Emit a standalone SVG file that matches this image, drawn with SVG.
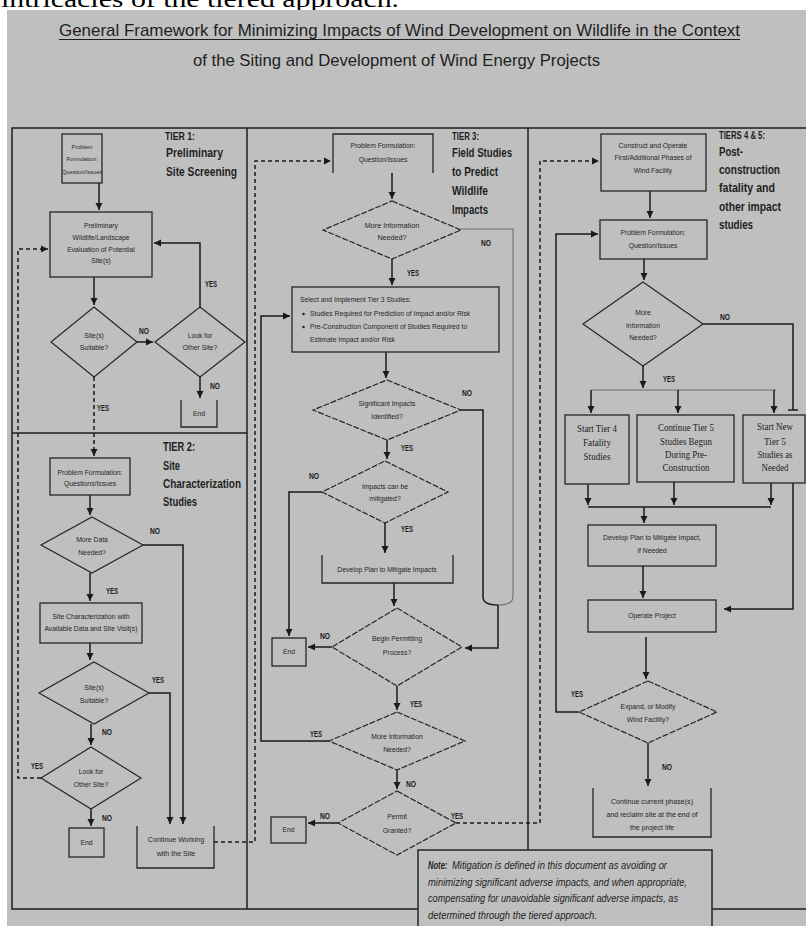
<svg xmlns="http://www.w3.org/2000/svg" width="806" height="926" viewBox="0 0 806 926">
<style>
.bg{fill:#bfbfbf}
.fr{fill:none;stroke:#1e1e1e;stroke-width:1.5}
.bx{fill:none;stroke:#262626;stroke-width:1.3}
.dm{fill:none;stroke:#262626;stroke-width:1.2}
.dd{fill:none;stroke:#262626;stroke-width:1.2;stroke-dasharray:6 1.6}
.ln{fill:none;stroke:#1a1a1a;stroke-width:1.5}
.lg{fill:none;stroke:#6e6e6e;stroke-width:1.1}
.ds{fill:none;stroke:#1a1a1a;stroke-width:1.5;stroke-dasharray:4 3}
text{font-family:"Liberation Sans",Arial,sans-serif;fill:#262626}
.t{font-size:6.8px;text-anchor:middle}
.tl{font-size:6.8px}
.s{font-family:"Liberation Serif","Times New Roman",serif;font-size:10px;text-anchor:middle;fill:#1e1e1e}
.lb{font-size:8.5px;font-weight:bold;fill:#1a1a1a}
.h{font-size:12px;font-weight:bold;fill:#1e1e1e}
.hs{font-size:10.5px;font-weight:bold;fill:#1e1e1e}
.ttl{font-size:17px;fill:#1e1e1e}
.nt{font-size:11.5px;font-style:italic;fill:#1e1e1e}
</style>
<defs>
<marker id="ar" markerUnits="userSpaceOnUse" markerWidth="8" markerHeight="8" refX="7" refY="4" orient="auto">
<path d="M0,0.5 L7,4 L0,7.5 z" fill="#1a1a1a"/>
</marker>
</defs>
<rect x="0" y="0" width="806" height="926" fill="#ffffff"/>
<text x="1" y="7" style="font-family:'Liberation Serif','Times New Roman',serif;font-size:24px;fill:#000" textLength="398" lengthAdjust="spacingAndGlyphs">intricacies of the tiered approach.</text>
<rect class="bg" x="7" y="10" width="799" height="916"/>

<g id="title">
<text class="ttl" x="59" y="36" textLength="681" lengthAdjust="spacingAndGlyphs">General Framework for Minimizing Impacts of Wind Development on Wildlife in the Context</text>
<line x1="59" y1="39.5" x2="740" y2="39.5" stroke="#1e1e1e" stroke-width="1"/>
<text class="ttl" x="193" y="66" textLength="407" lengthAdjust="spacingAndGlyphs">of the Siting and Development of Wind Energy Projects</text>
</g>

<g id="frame">
<path class="fr" d="M806,128 H12 V909 H418 M712,909 H806"/>
<line class="fr" x1="247" y1="128" x2="247" y2="909"/>
<line class="fr" x1="528" y1="128" x2="528" y2="850"/>
<line class="fr" x1="12" y1="433" x2="247" y2="433"/>
</g>

<g id="headings">
<text class="hs" x="165" y="140" textLength="30" lengthAdjust="spacingAndGlyphs">TIER 1:</text>
<text class="h" x="166" y="157" textLength="57" lengthAdjust="spacingAndGlyphs">Preliminary</text>
<text class="h" x="166" y="176" textLength="71" lengthAdjust="spacingAndGlyphs">Site Screening</text>
<text class="h" x="163" y="451" textLength="32" lengthAdjust="spacingAndGlyphs">TIER 2:</text>
<text class="h" x="163" y="470" textLength="17" lengthAdjust="spacingAndGlyphs">Site</text>
<text class="h" x="163" y="488" textLength="78" lengthAdjust="spacingAndGlyphs">Characterization</text>
<text class="h" x="163" y="506" textLength="34" lengthAdjust="spacingAndGlyphs">Studies</text>
<text class="hs" x="452" y="140" textLength="27" lengthAdjust="spacingAndGlyphs">TIER 3:</text>
<text class="h" x="452" y="157" textLength="60" lengthAdjust="spacingAndGlyphs">Field Studies</text>
<text class="h" x="452" y="176" textLength="46" lengthAdjust="spacingAndGlyphs">to Predict</text>
<text class="h" x="452" y="195" textLength="36" lengthAdjust="spacingAndGlyphs">Wildlife</text>
<text class="h" x="452" y="214" textLength="36" lengthAdjust="spacingAndGlyphs">Impacts</text>
<text class="hs" x="719" y="139" textLength="46" lengthAdjust="spacingAndGlyphs">TIERS 4 &amp; 5:</text>
<text class="h" x="719" y="156" textLength="24" lengthAdjust="spacingAndGlyphs">Post-</text>
<text class="h" x="719" y="174" textLength="61" lengthAdjust="spacingAndGlyphs">construction</text>
<text class="h" x="719" y="192" textLength="56" lengthAdjust="spacingAndGlyphs">fatality and</text>
<text class="h" x="719" y="211" textLength="62" lengthAdjust="spacingAndGlyphs">other impact</text>
<text class="h" x="719" y="229" textLength="34" lengthAdjust="spacingAndGlyphs">studies</text>
</g>

<g id="connectors">
<path class="ln" d="M99,183 V210" marker-end="url(#ar)"/>
<path class="ln" d="M94,277 V305" marker-end="url(#ar)"/>
<path class="ln" d="M137,342 H153" marker-end="url(#ar)"/>
<path class="ln" d="M200,307 V243 H154" marker-end="url(#ar)"/>
<path class="ln" d="M200,377 V398" marker-end="url(#ar)"/>
<path class="ds" d="M94,377 V456" marker-end="url(#ar)"/>
<path class="ds" d="M41,778 H18 V249 H48" marker-end="url(#ar)"/>
<path class="ln" d="M90,495 V515" marker-end="url(#ar)"/>
<path class="ln" d="M143,545 H183 V824" marker-end="url(#ar)"/>
<path class="ln" d="M90,573 V601" marker-end="url(#ar)"/>
<path class="ln" d="M90,643 V660" marker-end="url(#ar)"/>
<path class="ln" d="M149,693 H170 V824" marker-end="url(#ar)"/>
<path class="ln" d="M91,724 V745" marker-end="url(#ar)"/>
<path class="ln" d="M91,809 V826" marker-end="url(#ar)"/>
<path class="ds" d="M214,842 H255 V161 H331" marker-end="url(#ar)"/>
<path class="ln" d="M392,173 V199" marker-end="url(#ar)"/>
<path class="lg" d="M461,229 H513 V597 Q513,605 498,605"/>
<path class="ln" d="M392,259 V285" marker-end="url(#ar)"/>
<path class="ln" d="M386,352 V378" marker-end="url(#ar)"/>
<path class="ln" d="M461,410 H483 V597 Q483,605 498,605"/>
<path class="ln" d="M498,605 V648 H465" marker-end="url(#ar)"/>
<path class="ln" d="M387,440 V459" marker-end="url(#ar)"/>
<path class="ln" d="M322,492 H289 V636" marker-end="url(#ar)"/>
<path class="ln" d="M385,523 V553" marker-end="url(#ar)"/>
<path class="ln" d="M394,583 V606" marker-end="url(#ar)"/>
<path class="ln" d="M332,647 H308" marker-end="url(#ar)"/>
<path class="ln" d="M397,686 V710" marker-end="url(#ar)"/>
<path class="ln" d="M329,741 H261 V316 H290" marker-end="url(#ar)"/>
<path class="ln" d="M397,770 V789" marker-end="url(#ar)"/>
<path class="ln" d="M338,823 H308" marker-end="url(#ar)"/>
<path class="ds" d="M456,823 H540 V161 H599" marker-end="url(#ar)"/>
<path class="ln" d="M650,191 V218" marker-end="url(#ar)"/>
<path class="ln" d="M644,259 V280" marker-end="url(#ar)"/>
<path class="ln" d="M703,324 H793 V410 M788,410 H798"/>
<path class="ln" d="M643,366 V388" marker-end="url(#ar)"/>
<path class="lg" d="M591,390 H776"/>
<path class="ln" d="M591,390 V413" marker-end="url(#ar)"/>
<path class="ln" d="M678,390 V413" marker-end="url(#ar)"/>
<path class="ln" d="M774,390 V413" marker-end="url(#ar)"/>
<path class="ln" d="M588,484 V505" marker-end="url(#ar)"/>
<path class="ln" d="M674,482 V505" marker-end="url(#ar)"/>
<path class="ln" d="M771,483 V505" marker-end="url(#ar)"/>
<path class="ln" d="M588,507 H771"/>
<path class="ln" d="M644,507 V523" marker-end="url(#ar)"/>
<path class="ln" d="M643,566 V598" marker-end="url(#ar)"/>
<path class="ln" d="M793,483 V609 H724" marker-end="url(#ar)"/>
<path class="ln" d="M646,637 V679" marker-end="url(#ar)"/>
<path class="ln" d="M579,712 H556 V234 H598" marker-end="url(#ar)"/>
<path class="ln" d="M648,743 V786" marker-end="url(#ar)"/>
</g>

<g id="labels">
<text class="lb" x="139" y="334" textLength="10" lengthAdjust="spacingAndGlyphs">NO</text>
<text class="lb" x="205" y="287" textLength="12" lengthAdjust="spacingAndGlyphs">YES</text>
<text class="lb" x="210" y="389" textLength="10" lengthAdjust="spacingAndGlyphs">NO</text>
<text class="lb" x="97" y="411" textLength="12" lengthAdjust="spacingAndGlyphs">YES</text>
<text class="lb" x="150" y="534" textLength="10" lengthAdjust="spacingAndGlyphs">NO</text>
<text class="lb" x="106" y="594" textLength="12" lengthAdjust="spacingAndGlyphs">YES</text>
<text class="lb" x="152" y="683" textLength="12" lengthAdjust="spacingAndGlyphs">YES</text>
<text class="lb" x="102" y="735" textLength="10" lengthAdjust="spacingAndGlyphs">NO</text>
<text class="lb" x="31" y="769" textLength="12" lengthAdjust="spacingAndGlyphs">YES</text>
<text class="lb" x="102" y="821" textLength="10" lengthAdjust="spacingAndGlyphs">NO</text>
<text class="lb" x="481" y="246" textLength="10" lengthAdjust="spacingAndGlyphs">NO</text>
<text class="lb" x="407" y="276" textLength="12" lengthAdjust="spacingAndGlyphs">YES</text>
<text class="lb" x="462" y="396" textLength="10" lengthAdjust="spacingAndGlyphs">NO</text>
<text class="lb" x="401" y="451" textLength="12" lengthAdjust="spacingAndGlyphs">YES</text>
<text class="lb" x="309" y="479" textLength="10" lengthAdjust="spacingAndGlyphs">NO</text>
<text class="lb" x="401" y="532" textLength="12" lengthAdjust="spacingAndGlyphs">YES</text>
<text class="lb" x="320" y="639" textLength="10" lengthAdjust="spacingAndGlyphs">NO</text>
<text class="lb" x="410" y="707" textLength="12" lengthAdjust="spacingAndGlyphs">YES</text>
<text class="lb" x="310" y="737" textLength="12" lengthAdjust="spacingAndGlyphs">YES</text>
<text class="lb" x="406" y="787" textLength="10" lengthAdjust="spacingAndGlyphs">NO</text>
<text class="lb" x="320" y="819" textLength="10" lengthAdjust="spacingAndGlyphs">NO</text>
<text class="lb" x="451" y="819" textLength="12" lengthAdjust="spacingAndGlyphs">YES</text>
<text class="lb" x="720" y="320" textLength="10" lengthAdjust="spacingAndGlyphs">NO</text>
<text class="lb" x="663" y="382" textLength="12" lengthAdjust="spacingAndGlyphs">YES</text>
<text class="lb" x="571" y="697" textLength="12" lengthAdjust="spacingAndGlyphs">YES</text>
<text class="lb" x="662" y="770" textLength="10" lengthAdjust="spacingAndGlyphs">NO</text>
</g>

<g id="t1_problem"><rect class="bx" x="62" y="134" width="40" height="49"/>
<text class="t" x="82" y="149" style="font-size:5.6px">Problem</text>
<text class="t" x="82" y="161" style="font-size:5.6px">Formulation:</text>
<text class="t" x="82" y="174" style="font-size:5.6px">Question/Issues</text></g>
<g id="t1_prelim"><rect class="bx" x="50" y="212" width="102" height="65"/>
<text class="t" x="101" y="228">Preliminary</text>
<text class="t" x="101" y="240">Wildlife/Landscape</text>
<text class="t" x="101" y="252">Evaluation of Potential</text>
<text class="t" x="101" y="263">Site(s)</text></g>
<g id="t1_suitable"><path class="dm" d="M94,307 L137,342 L94,377 L51,342 Z"/>
<text class="t" x="94" y="338">Site(s)</text>
<text class="t" x="94" y="350">Suitable?</text></g>
<g id="t1_look"><path class="dm" d="M200,307 L245,342 L200,377 L155,342 Z"/>
<text class="t" x="200" y="338">Look for</text>
<text class="t" x="200" y="350">Other Site?</text></g>
<g id="t1_end"><path class="bx" d="M181,400 V427 H217 V400"/>
<text class="t" x="199" y="416">End</text></g>

<g id="t2_problem"><rect class="bx" x="50" y="458" width="80" height="37"/>
<text class="t" x="90" y="475">Problem Formulation:</text>
<text class="t" x="90" y="486">Questions/Issues</text></g>
<g id="t2_moredata"><path class="dm" d="M92,517 L143,545 L92,573 L41,545 Z"/>
<text class="t" x="92" y="542">More Data</text>
<text class="t" x="92" y="555">Needed?</text></g>
<g id="t2_sitechar"><rect class="bx" x="40" y="603" width="102" height="40"/>
<text class="t" x="91" y="619">Site Characterization with</text>
<text class="t" x="91" y="631">Available Data and Site Visit(s)</text></g>
<g id="t2_suitable"><path class="dm" d="M94,662 L149,693 L94,724 L39,693 Z"/>
<text class="t" x="94" y="690">Site(s)</text>
<text class="t" x="94" y="703">Suitable?</text></g>
<g id="t2_look"><path class="dm" d="M91,747 L141,778 L91,809 L41,778 Z"/>
<text class="t" x="91" y="774">Look for</text>
<text class="t" x="91" y="787">Other Site?</text></g>
<g id="t2_end"><rect class="bx" x="69" y="828" width="35" height="29"/>
<text class="t" x="86.5" y="845">End</text></g>
<g id="t2_continue"><path class="bx" d="M137,826 V868 H214 V826"/>
<text class="t" x="176" y="842" style="font-size:7.1px">Continue Working</text>
<text class="t" x="176" y="856" style="font-size:7.1px">with the Site</text></g>

<g id="t3_problem"><path class="bx" d="M333,173 V134 H433 V173"/>
<text class="t" x="383" y="148">Problem Formulation:</text>
<text class="t" x="383" y="162">Question/Issues</text></g>
<g id="t3_moreinfo"><path class="dd" d="M392,201 L461,230 L392,259 L323,230 Z"/>
<text class="t" x="392" y="228" style="font-size:7.2px">More Information</text>
<text class="t" x="392" y="240" style="font-size:7.2px">Needed?</text></g>
<g id="t3_select"><rect class="bx" x="292" y="287" width="207" height="65"/>
<text class="tl" x="300" y="302">Select and Implement Tier 3 Studies:</text>
<circle cx="303.5" cy="314" r="1.3" fill="#262626"/>
<text class="tl" x="310" y="316">Studies Required for Prediction of Impact and/or Risk</text>
<circle cx="303.5" cy="327" r="1.3" fill="#262626"/>
<text class="tl" x="310" y="329">Pre-Construction Component of Studies Required to</text>
<text class="tl" x="310" y="342">Estimate Impact and/or Risk</text></g>
<g id="t3_significant"><path class="dd" d="M387,380 L461,410 L387,440 L313,410 Z"/>
<text class="t" x="387" y="406">Significant Impacts</text>
<text class="t" x="387" y="419">Identified?</text></g>
<g id="t3_mitigated"><path class="dd" d="M385,461 L448,492 L385,523 L322,492 Z"/>
<text class="t" x="385" y="489">Impacts can be</text>
<text class="t" x="385" y="501">mitigated?</text></g>
<g id="t3_plan"><path class="bx" d="M322,555 V583 H453 V555"/>
<text class="t" x="387" y="572">Develop Plan to Mitigate Impacts</text></g>
<g id="t3_permitting"><path class="dd" d="M397,608 L462,647 L397,686 L332,647 Z"/>
<text class="t" x="397" y="641">Begin Permitting</text>
<text class="t" x="397" y="655">Process?</text></g>
<g id="t3_end1"><rect class="bx" x="272" y="638" width="34" height="28"/>
<text class="t" x="289" y="654">End</text></g>
<g id="t3_moreinfo2"><path class="dd" d="M397,712 L465,741 L397,770 L329,741 Z"/>
<text class="t" x="397" y="739">More Information</text>
<text class="t" x="397" y="752">Needed?</text></g>
<g id="t3_granted"><path class="dd" d="M397,791 L456,823 L397,855 L338,823 Z"/>
<text class="t" x="397" y="819">Permit</text>
<text class="t" x="397" y="833">Granted?</text></g>
<g id="t3_end2"><rect class="bx" x="271" y="817" width="35" height="26"/>
<text class="t" x="288.5" y="832">End</text></g>

<g id="t4_construct"><rect class="bx" x="601" y="134" width="105" height="57"/>
<text class="t" x="653" y="148">Construct and Operate</text>
<text class="t" x="653" y="160">First/Additional Phases of</text>
<text class="t" x="653" y="173">Wind Facility</text></g>
<g id="t4_problem"><rect class="bx" x="600" y="220" width="107" height="39"/>
<text class="t" x="653" y="235">Problem Formulation:</text>
<text class="t" x="653" y="248">Question/Issues</text></g>
<g id="t4_moreinfo"><path class="dm" d="M643,282 L703,324 L643,366 L583,324 Z"/>
<text class="t" x="643" y="315">More</text>
<text class="t" x="643" y="328">Information</text>
<text class="t" x="643" y="340">Needed?</text></g>
<g id="t4_fatality"><rect class="bx" x="565" y="415" width="64" height="69"/>
<text class="s" x="597" y="432" textLength="40" lengthAdjust="spacingAndGlyphs">Start Tier 4</text>
<text class="s" x="597" y="446" textLength="28" lengthAdjust="spacingAndGlyphs">Fatality</text>
<text class="s" x="597" y="460" textLength="27" lengthAdjust="spacingAndGlyphs">Studies</text></g>
<g id="t4_continue5"><rect class="bx" x="637" y="415" width="97" height="67"/>
<text class="s" x="686" y="431" textLength="56" lengthAdjust="spacingAndGlyphs">Continue Tier 5</text>
<text class="s" x="686" y="445" textLength="52" lengthAdjust="spacingAndGlyphs">Studies Begun</text>
<text class="s" x="686" y="458" textLength="42" lengthAdjust="spacingAndGlyphs">During Pre-</text>
<text class="s" x="686" y="471" textLength="47" lengthAdjust="spacingAndGlyphs">Construction</text></g>
<g id="t4_new5"><rect class="bx" x="743" y="415" width="62" height="68"/>
<text class="s" x="775" y="430" textLength="36" lengthAdjust="spacingAndGlyphs">Start New</text>
<text class="s" x="775" y="445" textLength="22" lengthAdjust="spacingAndGlyphs">Tier 5</text>
<text class="s" x="775" y="458" textLength="35" lengthAdjust="spacingAndGlyphs">Studies as</text>
<text class="s" x="775" y="471" textLength="27" lengthAdjust="spacingAndGlyphs">Needed</text></g>
<g id="t4_plan"><rect class="bx" x="588" y="525" width="128" height="41"/>
<text class="t" x="652" y="540">Develop Plan to Mitigate Impact,</text>
<text class="t" x="652" y="553">if Needed</text></g>
<g id="t4_operate"><rect class="bx" x="588" y="600" width="128" height="32"/>
<text class="t" x="652" y="618">Operate Project</text></g>
<g id="t4_expand"><path class="dd" d="M648,681 L717,712 L648,743 L579,712 Z"/>
<text class="t" x="648" y="709">Expand, or Modify</text>
<text class="t" x="648" y="722">Wind Facility?</text></g>
<g id="t4_reclaim"><path class="bx" d="M593,788 V837 H711 V788"/>
<text class="t" x="652" y="804" style="font-size:7.1px">Continue current phase(s)</text>
<text class="t" x="652" y="817" style="font-size:7.1px">and reclaim site at the end of</text>
<text class="t" x="652" y="830" style="font-size:7.1px">the project life</text></g>

<g id="note"><rect x="418" y="850" width="294" height="80" fill="#bfbfbf" stroke="#262626" stroke-width="1.5"/>
<text class="nt" transform="translate(428,869) scale(0.66,1)" x="0" y="0" font-weight="bold">Note:</text>
<text class="nt" x="452" y="869" textLength="215" lengthAdjust="spacingAndGlyphs">Mitigation is defined in this document as avoiding or</text>
<text class="nt" x="428" y="886" textLength="259" lengthAdjust="spacingAndGlyphs">minimizing significant adverse impacts, and when appropriate,</text>
<text class="nt" x="428" y="902" textLength="250" lengthAdjust="spacingAndGlyphs">compensating for unavoidable significant adverse impacts, as</text>
<text class="nt" x="428" y="919" textLength="169" lengthAdjust="spacingAndGlyphs">determined through the tiered approach.</text></g>
</svg>
